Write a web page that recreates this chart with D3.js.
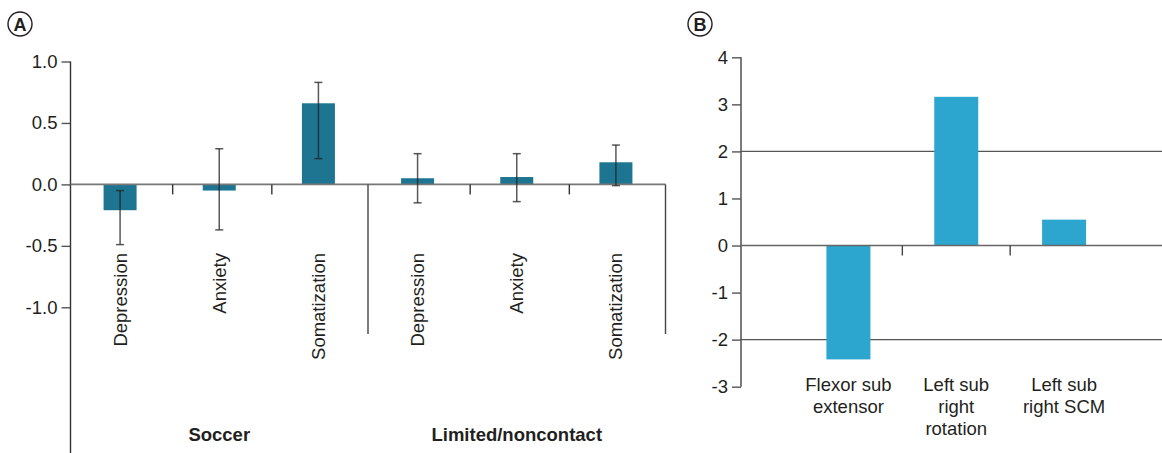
<!DOCTYPE html>
<html><head><meta charset="utf-8">
<script src="https://cdn.jsdelivr.net/npm/d3@7"></script>
<style>
html,body{margin:0;padding:0;background:#fff;}
text{font-family:"Liberation Sans",Arial,sans-serif;fill:#231f20;}
</style></head>
<body>
<svg id="c" width="1162" height="453"></svg>
<script>
// ---- Panel A data ----
const groupsA = ["Soccer", "Limited/noncontact"];
const measuresA = ["Depression", "Anxiety", "Somatization"];
const valuesA = [-0.21, -0.05, 0.66, 0.05, 0.06, 0.18];
const errLowA = [-0.49, -0.37, 0.21, -0.15, -0.14, -0.01];
const errHighA = [-0.05, 0.29, 0.83, 0.25, 0.25, 0.32];
const ticksA = [1.0, 0.5, 0.0, -0.5, -1.0];
// ---- Panel B data ----
const categoriesB = [["Flexor sub", "extensor"], ["Left sub", "right", "rotation"], ["Left sub", "right SCM"]];
const valuesB = [-2.42, 3.16, 0.55];
const ticksB = [4, 3, 2, 1, 0, -1, -2, -3];
const refLinesB = [2, -2];

const svg = d3.select("#c");
const axisCol = "#555";
const fs = "18.5px";
const hy = s => s.replace("\u2212", "-");

function panelLabel(x, y, t) {
  svg.append("circle").attr("cx", x).attr("cy", y).attr("r", 12)
    .attr("fill", "none").attr("stroke", "#231f20").attr("stroke-width", 1.4);
  svg.append("text").attr("x", x).attr("y", y + 6.5).attr("text-anchor", "middle")
    .attr("font-size", "18px").attr("font-weight", "bold").text(t);
}

// ================= Panel A =================
{
  const x0 = 70.5, x1 = 665.5;
  const y = d3.scaleLinear().domain([-1, 1]).range([307.3, 61.5]);
  const keys = [];
  groupsA.forEach((g, gi) => measuresA.forEach((m, mi) => keys.push(gi + "-" + mi)));
  const x = d3.scaleBand().domain(keys).range([x0, x1]).paddingInner(0).paddingOuter(0);
  const bw = 33;
  const g = svg.append("g");

  // y axis
  const ya = d3.axisLeft(y).tickValues(ticksA).tickSize(9).tickPadding(4)
    .tickFormat(d => hy(d3.format(".1f")(d)));
  const ag = g.append("g").attr("transform", `translate(${x0},0)`).call(ya);
  ag.select(".domain").remove();
  ag.selectAll(".tick line").attr("stroke", axisCol).attr("stroke-width", 1.4);
  ag.selectAll(".tick text").attr("font-size", fs).attr("fill", "#231f20")
    .style("font-family", "Liberation Sans, Arial, sans-serif");
  g.append("line").attr("x1", x0).attr("x2", x0).attr("y1", y(1)).attr("y2", 453)
    .attr("stroke", "#333").attr("stroke-width", 1.4);

  // bars
  g.selectAll("rect.bar").data(valuesA).join("rect")
    .attr("x", (d, i) => x(keys[i]) + x.bandwidth() / 2 - bw / 2)
    .attr("width", bw)
    .attr("y", d => Math.min(y(d), y(0)))
    .attr("height", d => Math.abs(y(d) - y(0)))
    .attr("fill", "#1e7592");

  // zero line
  g.append("line").attr("x1", x0).attr("x2", x1).attr("y1", y(0)).attr("y2", y(0))
    .attr("stroke", "#777").attr("stroke-width", 1.6);
  // small separators within groups
  keys.forEach((k, i) => {
    if (i % 3 !== 0) {
      const xx = x(k) + 3;
      g.append("line").attr("x1", xx).attr("x2", xx).attr("y1", y(0)).attr("y2", y(0) + 10)
        .attr("stroke", "#333").attr("stroke-width", 1.4);
    }
  });
  // group divider & right edge
  [x(keys[3]), x1].forEach(xx => {
    g.append("line").attr("x1", xx).attr("x2", xx).attr("y1", y(0)).attr("y2", 334)
      .attr("stroke", "#444").attr("stroke-width", 1.4);
  });

  // error bars
  valuesA.forEach((v, i) => {
    const cx = x(keys[i]) + x.bandwidth() / 2;
    const eg = g.append("g").attr("stroke", "#222").attr("stroke-opacity", 0.75).attr("stroke-width", 1.5);
    eg.append("line").attr("x1", cx).attr("x2", cx).attr("y1", y(errHighA[i])).attr("y2", y(errLowA[i]));
    [errHighA[i], errLowA[i]].forEach(e => {
      eg.append("line").attr("x1", cx - 4).attr("x2", cx + 4).attr("y1", y(e)).attr("y2", y(e));
    });
  });

  // category labels (rotated)
  keys.forEach((k, i) => {
    const cx = x(k) + x.bandwidth() / 2;
    g.append("text").attr("transform", `translate(${cx + 6.5},253) rotate(-90)`)
      .attr("text-anchor", "end").attr("font-size", fs)
      .text(measuresA[i % 3]);
  });
  // group labels
  groupsA.forEach((gr, gi) => {
    const cx = x(keys[gi * 3 + 1]) + x.bandwidth() / 2;
    g.append("text").attr("x", cx).attr("y", 441).attr("text-anchor", "middle")
      .attr("font-size", "18.5px").attr("font-weight", "bold").text(gr);
  });
  panelLabel(20, 24, "A");
}

// ================= Panel B =================
{
  const x0 = 741;
  const y = d3.scaleLinear().domain([-3, 4]).range([386.7, 57.3]);
  const x = d3.scaleBand().domain(categoriesB.map((c, i) => i)).range([794.5, 1118]).padding(0);
  const bw = 44;
  const g = svg.append("g");

  const ya = d3.axisLeft(y).tickValues(ticksB).tickSize(9).tickPadding(4)
    .tickFormat(d => hy(d3.format("d")(d)));
  const ag = g.append("g").attr("transform", `translate(${x0},0)`).call(ya);
  ag.select(".domain").attr("stroke", "#444").attr("stroke-width", 1.4).attr("d", `M0,${y(4)}V${y(-3)}`);
  ag.selectAll(".tick line").attr("stroke", axisCol).attr("stroke-width", 1.4);
  ag.selectAll(".tick text").attr("font-size", fs).attr("fill", "#231f20")
    .style("font-family", "Liberation Sans, Arial, sans-serif");

  // reference lines
  refLinesB.forEach(r => {
    g.append("line").attr("x1", x0).attr("x2", 1162).attr("y1", y(r)).attr("y2", y(r))
      .attr("stroke", "#555").attr("stroke-width", 1.4);
  });

  // bars
  g.selectAll("rect.bar").data(valuesB).join("rect")
    .attr("x", (d, i) => x(i) + x.bandwidth() / 2 - bw / 2)
    .attr("width", bw)
    .attr("y", d => Math.min(y(d), y(0)))
    .attr("height", d => Math.abs(y(d) - y(0)))
    .attr("fill", "#2ca6ce");

  // zero line
  g.append("line").attr("x1", x0).attr("x2", 1162).attr("y1", y(0)).attr("y2", y(0))
    .attr("stroke", "#666").attr("stroke-width", 1.6);
  // separators
  [1, 2].forEach(i => {
    const xx = x(i);
    g.append("line").attr("x1", xx).attr("x2", xx).attr("y1", y(0)).attr("y2", y(0) + 10)
      .attr("stroke", "#444").attr("stroke-width", 1.4);
  });

  // category labels
  categoriesB.forEach((lines, i) => {
    const cx = x(i) + x.bandwidth() / 2;
    const t = g.append("text").attr("text-anchor", "middle").attr("font-size", fs);
    lines.forEach((ln, li) => {
      t.append("tspan").attr("x", cx).attr("y", 391 + li * 22).text(ln);
    });
  });
  panelLabel(700, 24, "B");
}
</script>
</body></html>
